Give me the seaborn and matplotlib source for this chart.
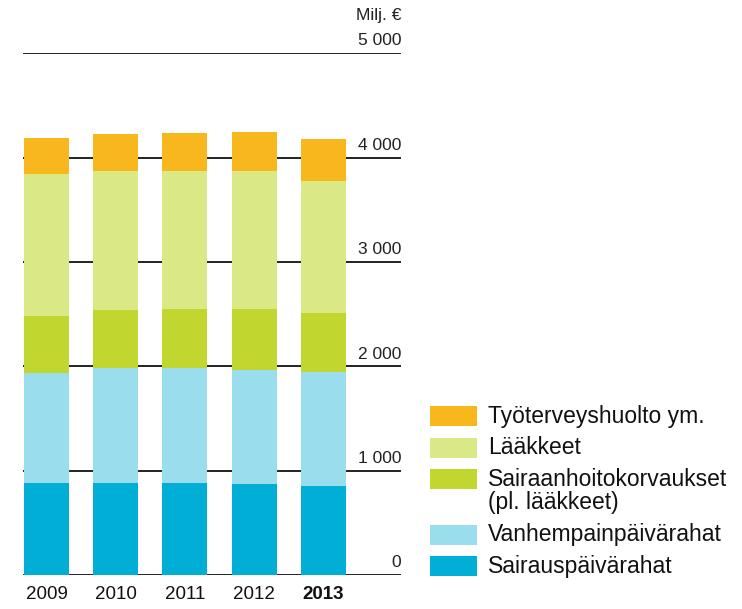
import matplotlib
matplotlib.use("Agg")
import matplotlib.pyplot as plt
from matplotlib.patches import Rectangle
from matplotlib import font_manager
import seaborn as sns
import pandas as pd
import numpy as np

years = ["2009", "2010", "2011", "2012", "2013"]
series_names = ["Sairauspäivärahat", "Vanhempainpäivärahat",
                "Sairaanhoitokorvaukset\n(pl. lääkkeet)", "Lääkkeet", "Työterveyshuolto ym."]
sairauspaivarahat = [884, 884, 884, 874, 852]
vanhempainpaivarahat = [1056, 1103, 1097, 1088, 1097]
sairaanhoito = [547, 554, 570, 589, 563]
laakkeet = [1361, 1327, 1317, 1317, 1269]
tyoterveys = [344, 362, 372, 381, 401]
colors = ["#00AED6", "#9ADEEE", "#C1D72F", "#DAE886", "#F9B71E"]
y_ticks = [0, 1000, 2000, 3000, 4000, 5000]
y_tick_labels = ["0", "1 000", "2 000", "3 000", "4 000", "5 000"]
unit_label = "Milj. €"

sns.set_theme(style="white")
avail = {f.name for f in font_manager.fontManager.ttflist}
narrow = "Liberation Sans Narrow" if "Liberation Sans Narrow" in avail else "Liberation Sans"
plt.rcParams["font.family"] = [narrow, "DejaVu Sans"]

series = [sairauspaivarahat, vanhempainpaivarahat, sairaanhoito, laakkeet, tyoterveys]
cum = np.cumsum(np.array(series), axis=0)

fig = plt.figure(figsize=(7.42, 6.09), dpi=100)
W, H = 742, 609
ax = fig.add_axes([23 / W, (H - 575.3) / H, 378 / W, 522 / H])

# gridlines
for v in y_ticks:
    ax.axhline(v, color="#111111", lw=2.0 if v == 0 else 1.3, zorder=0)

# stacked bars: draw cumulative totals from top down
for i in range(len(series) - 1, -1, -1):
    df = pd.DataFrame({"year": years, "value": cum[i]})
    sns.barplot(data=df, x="year", y="value", color=colors[i], width=0.65,
                saturation=1, ax=ax, zorder=2, linewidth=0)

ax.set_ylim(0, 5000)
ax.set_xlim(-0.339, 5.12)
for s in ax.spines.values():
    s.set_visible(False)
ax.set_yticks([])
ax.set_ylabel("")
ax.set_xlabel("")
ax.tick_params(axis="x", length=0, pad=8)
ax.set_xticks(range(len(years)))
ax.set_xticklabels(years, fontsize=13.5, color="#111111")
ax.get_xticklabels()[-1].set_fontweight("bold")

for v, lab in zip(y_ticks, y_tick_labels):
    ax.text(1.0, v + 75, lab, transform=ax.get_yaxis_transform(), ha="right",
            va="baseline", fontsize=12.5, color="#222222")
ax.text(1.0, 5000 + 75 + 240, unit_label, transform=ax.get_yaxis_transform(),
        ha="right", va="baseline", fontsize=12.5, color="#222222")

# legend
legend_rows = [(4, 416, "Työterveyshuolto ym."), (3, 448, "Lääkkeet"),
               (2, 479, "Sairaanhoitokorvaukset\n(pl. lääkkeet)"),
               (1, 535, "Vanhempainpäivärahat"), (0, 566, "Sairauspäivärahat")]
for idx, yc, lab in legend_rows:
    fig.add_artist(Rectangle((430 / W, (H - yc - 10) / H), 47 / W, 20 / H,
                             transform=fig.transFigure, color=colors[idx], lw=0))
    ty = yc + 12 if "\n" in lab else yc
    fig.text(488 / W, (H - ty) / H, lab, ha="left", va="center",
             fontsize=16.5, color="#111111", linespacing=0.95)

fig.savefig("out.png", dpi=100)
